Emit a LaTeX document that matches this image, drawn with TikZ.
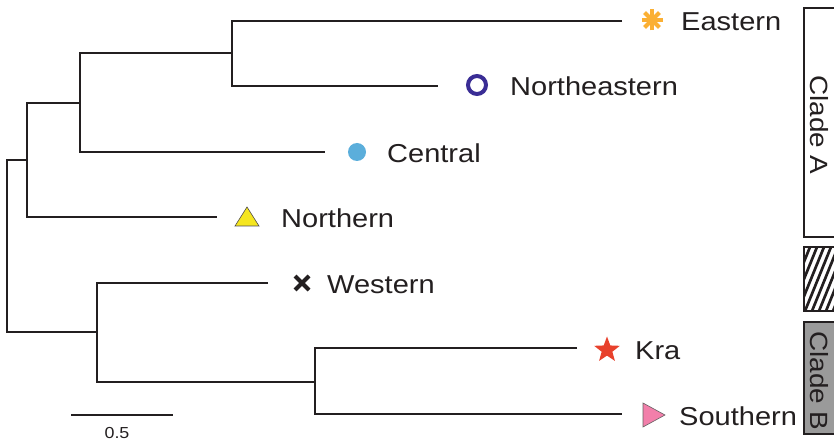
\documentclass[tikz,border=0pt]{standalone}
\usepackage{fontspec}
\setmainfont{Liberation Sans}[FakeStretch=1.12]
\usetikzlibrary{shapes.geometric}
\definecolor{ink}{HTML}{231F20}
\definecolor{eastc}{HTML}{FBB034}
\definecolor{nec}{HTML}{3A2D95}
\definecolor{cenc}{HTML}{5BAEDB}
\definecolor{norc}{HTML}{F5E61F}
\definecolor{krac}{HTML}{E8412C}
\definecolor{souc}{HTML}{F27FAA}
\definecolor{cladeb}{HTML}{9A9A9A}
\begin{document}
\begin{tikzpicture}[x=1bp,y=-1bp,
  branch/.style={line width=2.8bp, draw=ink, line join=miter},
  lab/.style={anchor=base west, inner sep=0, text=ink, font=\fontsize{26}{30}\selectfont},
  cladebox/.style={draw=ink, line width=1.1bp},
  cladelab/.style={rotate=-90, inner sep=0, text=ink, font=\fontsize{25}{30}\selectfont}]
\useasboundingbox (0,0) rectangle (834,442);
% tree coordinates
\coordinate (tE) at (622,21);
\coordinate (tNE) at (438,86);
\coordinate (tC) at (325,152);
\coordinate (tN) at (217,217);
\coordinate (tW) at (268,283);
\coordinate (tK) at (577,348);
\coordinate (tS) at (622,414);
\coordinate (n2) at (232,53);
\coordinate (n1) at (80,103);
\coordinate (nA) at (27,160);
\coordinate (r) at (7,246);
\coordinate (nB) at (97,332);
\coordinate (nB1) at (315,382);
% branches
\draw[branch] (tE) -| (n2) |- (tNE);
\draw[branch] (n2) -| (n1) |- (tC);
\draw[branch] (n1) -| (nA) |- (tN);
\draw[branch] (nA) -| (r) |- (nB);
\draw[branch] (tW) -| (nB) |- (nB1);
\draw[branch] (tK) -| (nB1) |- (tS);
% markers
\coordinate (mE) at (652,20);
\foreach \a in {0,45,90,135}
  \draw[eastc, line width=4bp] (mE) ++(\a:10.5) -- ++(\a+180:21);
\node[circle, draw=nec, line width=4bp, minimum size=18bp, inner sep=0] (mNE) at (477,85) {};
\node[circle, fill=cenc, minimum size=18bp, inner sep=0] (mC) at (357,152) {};
\draw[fill=norc, draw=ink!80, line width=0.6bp] (235,226) -- (259,226) -- (247,207) -- cycle;
\draw[ink, line width=4bp] (302,283) ++(-7,-7) -- ++(14,14) ++(0,-14) -- ++(-14,14);
\node[star, star points=5, star point ratio=2.4, fill=krac, minimum size=27bp, inner sep=0] (mK) at (607,350) {};
\draw[fill=souc, draw=ink!70, line width=0.6bp] (643,403) -- (665,415) -- (643,427) -- cycle;
% labels
\node[lab] (lE) at (681,30.5) {Eastern};
\node[lab] (lNE) at (510,95.5) {Northeastern};
\node[lab] (lC) at (387,162.5) {Central};
\node[lab] (lN) at (281,227.5) {Northern};
\node[lab] (lW) at (327,293.5) {Western};
\node[lab] (lK) at (635,359.5) {Kra};
\node[lab] (lS) at (679,425) {Southern};
% scale bar
\coordinate (sb1) at (71,415);
\coordinate (sb2) at (173,415);
\draw[branch] (sb1) -- (sb2);
\node[inner sep=0, text=ink, font=\fontsize{16}{18}\selectfont] (sbl) at (117,433) {0.5};
% clade boxes
\draw[cladebox, fill=white] (804,8) rectangle (845,237);
\node[cladelab] (cA) at (819,125) {Clade A};
\begin{scope}
  \clip (804,247) rectangle (845,311);
  \foreach \i in {0,...,14}
    \draw[ink, line width=2.7bp] (770+\i*7,311) -- ++(26,-64);
\end{scope}
\draw[cladebox] (804,247) rectangle (845,311);
\draw[cladebox, fill=cladeb] (804,322) rectangle (845,434);
\node[cladelab] (cB) at (819,381) {Clade B};
\end{tikzpicture}
\end{document}
